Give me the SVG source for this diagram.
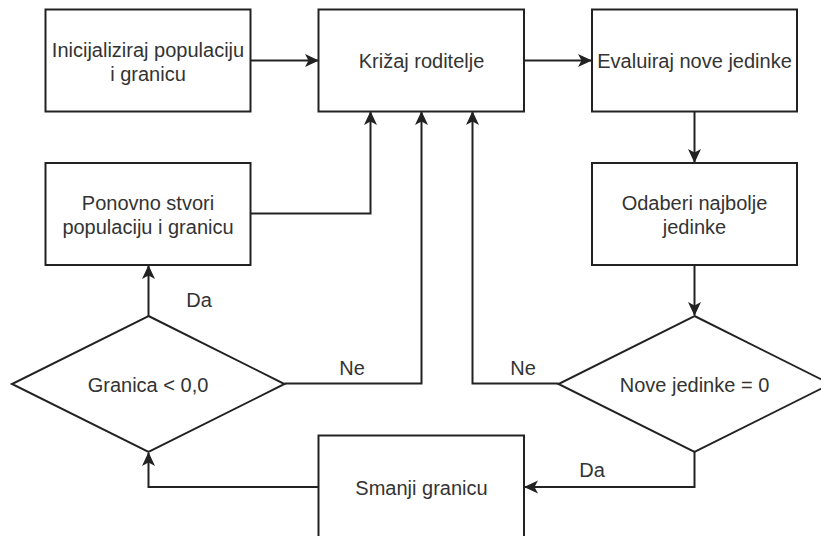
<svg xmlns="http://www.w3.org/2000/svg" width="821" height="536" viewBox="0 0 821 536">
<style>
.box{fill:#fff;stroke:#222;stroke-width:2}
.t{font-family:"Liberation Sans",Arial,sans-serif;font-size:20px;fill:#333;text-anchor:middle}
.lbl{font-family:"Liberation Sans",Arial,sans-serif;font-size:20px;fill:#333;text-anchor:middle}
.c{fill:none;stroke:#222;stroke-width:2}
</style>
<defs>
<marker id="ah" viewBox="0 0 14 14" refX="13" refY="7" markerWidth="14" markerHeight="14" markerUnits="userSpaceOnUse" orient="auto">
<path d="M0,0.5 L14,7 L0,13.5 L3.5,7 Z" fill="#222"/>
</marker>
</defs>
<rect width="821" height="536" fill="#fff"/>
<g id="connectors">
<path class="c" d="M251,60.5 L318,60.5" marker-end="url(#ah)"/>
<path class="c" d="M524,60.5 L591,60.5" marker-end="url(#ah)"/>
<path class="c" d="M694.5,111 L694.5,162" marker-end="url(#ah)"/>
<path class="c" d="M694.5,265 L694.5,315" marker-end="url(#ah)"/>
<path class="c" d="M251,213.5 L370.5,213.5 L370.5,112" marker-end="url(#ah)"/>
<path class="c" d="M284.5,383.5 L421.5,383.5 L421.5,112" marker-end="url(#ah)"/>
<path class="c" d="M558.5,383.5 L472.5,383.5 L472.5,112" marker-end="url(#ah)"/>
<path class="c" d="M694.5,452 L694.5,487 L525,487" marker-end="url(#ah)"/>
<path class="c" d="M318,487 L148.5,487 L148.5,453" marker-end="url(#ah)"/>
<path class="c" d="M148.5,316 L148.5,266" marker-end="url(#ah)"/>
<text class="lbl" x="199" y="306.5">Da</text>
<text class="lbl" x="352" y="375">Ne</text>
<text class="lbl" x="523" y="375">Ne</text>
<text class="lbl" x="592" y="477">Da</text>
</g>
<g id="init">
<rect class="box" x="45.5" y="9.5" width="205" height="102"/>
<text class="t" x="148" y="56.5">Inicijaliziraj populaciju</text>
<text class="t" x="148" y="80.5">i granicu</text>
</g>
<g id="krizaj">
<rect class="box" x="318.5" y="9.5" width="205.5" height="102"/>
<text class="t" x="421.5" y="68">Križaj roditelje</text>
</g>
<g id="evaluiraj">
<rect class="box" x="592" y="9.5" width="205" height="102"/>
<text class="t" x="694.5" y="68">Evaluiraj nove jedinke</text>
</g>
<g id="odaberi">
<rect class="box" x="592" y="163" width="205" height="102"/>
<text class="t" x="694.5" y="210">Odaberi najbolje</text>
<text class="t" x="694.5" y="234">jedinke</text>
</g>
<g id="ponovno">
<rect class="box" x="45.5" y="163" width="205" height="102"/>
<text class="t" x="148" y="210">Ponovno stvori</text>
<text class="t" x="148" y="234">populaciju i granicu</text>
</g>
<g id="granica">
<polygon class="box" points="148.5,316 284.5,384 148.5,452 12,384"/>
<text class="t" x="148" y="391.5">Granica &lt; 0,0</text>
</g>
<g id="nove">
<polygon class="box" points="694.5,316 830.5,384 694.5,452 558.5,384"/>
<text class="t" x="694.5" y="391.5">Nove jedinke = 0</text>
</g>
<g id="smanji">
<rect class="box" x="318.5" y="435.5" width="205.5" height="102"/>
<text class="t" x="421.5" y="494.5">Smanji granicu</text>
</g>
</svg>
